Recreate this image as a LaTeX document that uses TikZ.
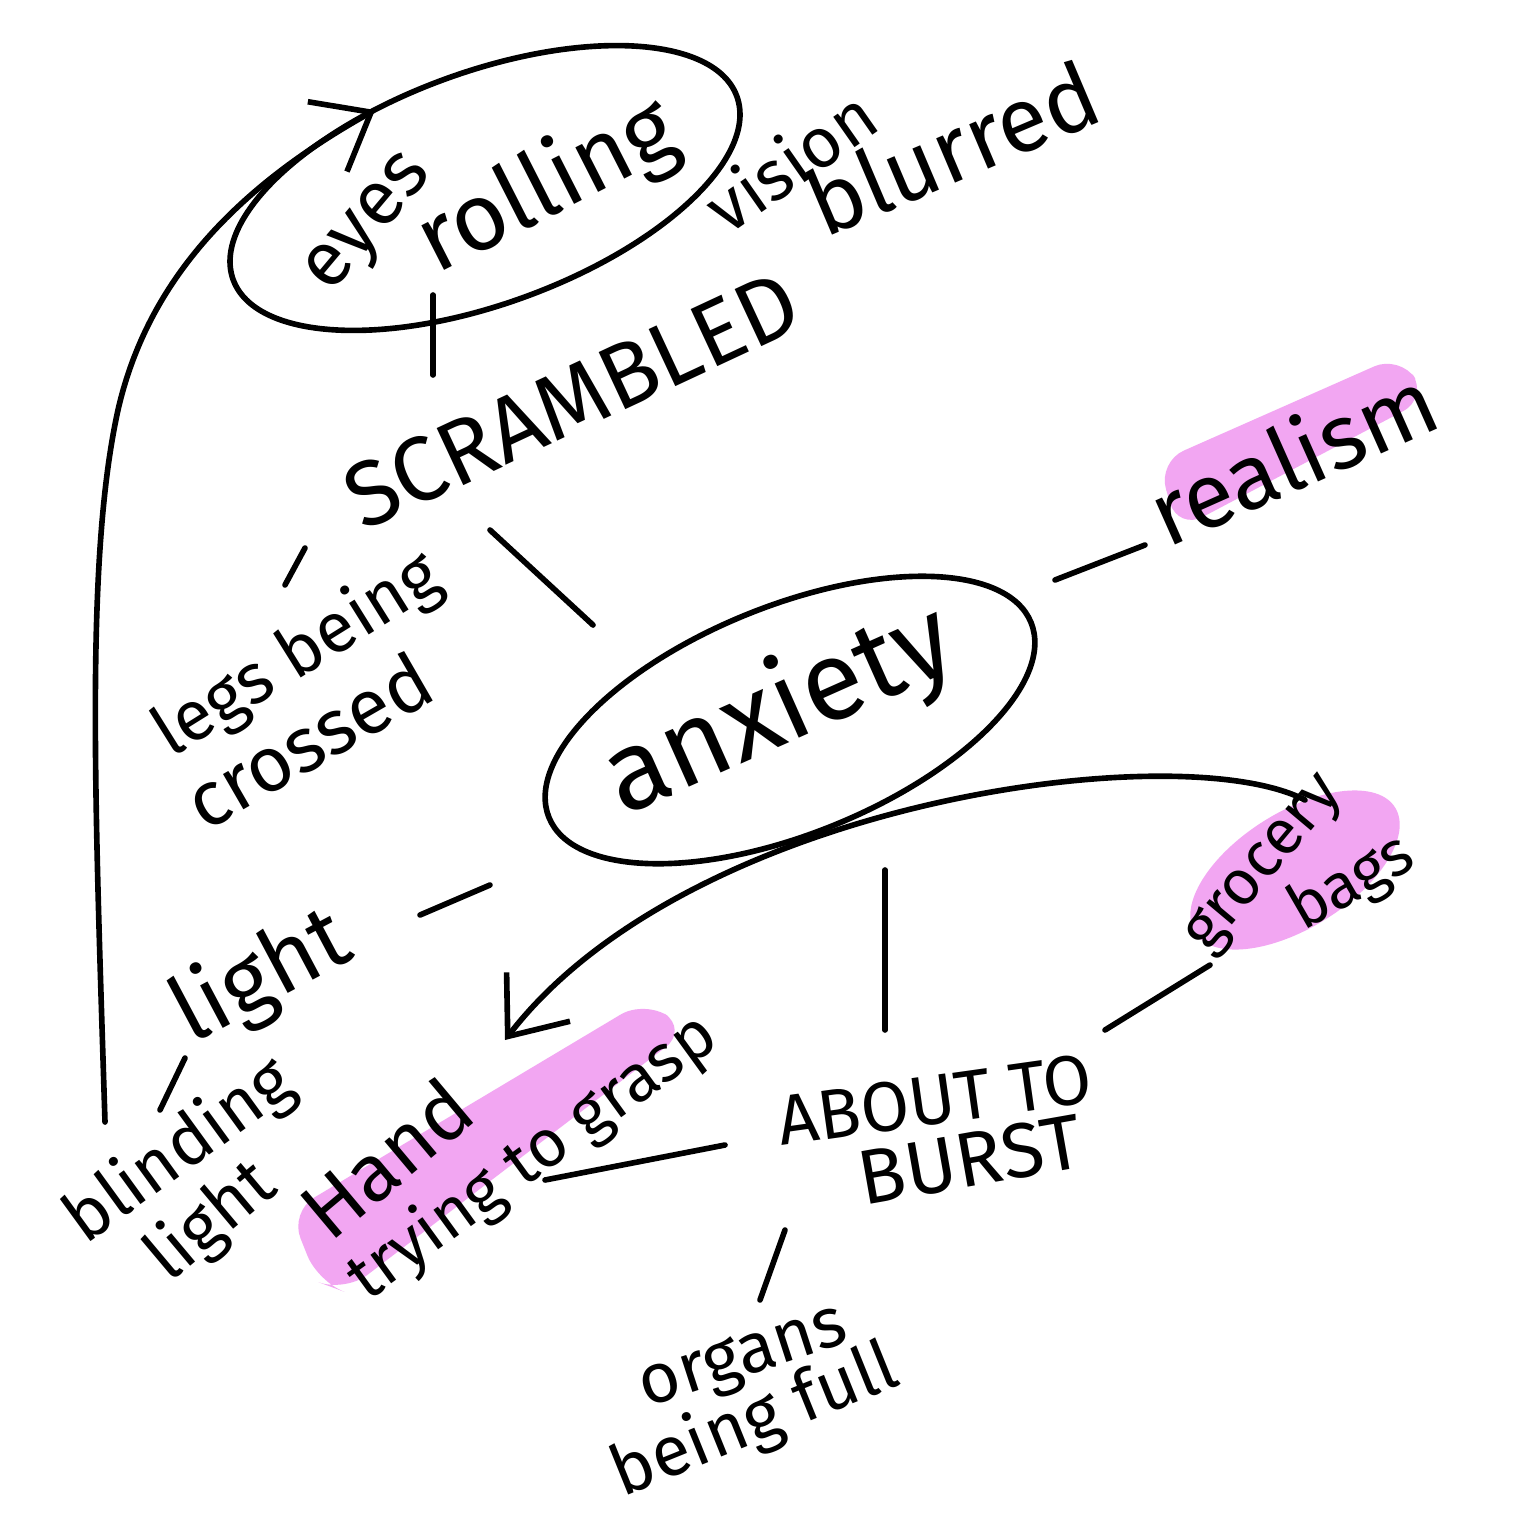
\documentclass[tikz,border=0pt]{standalone}
\usepackage{fontspec}
\setmainfont{Fira Sans}
\usetikzlibrary{arrows.meta}
\definecolor{hl}{RGB}{242,166,242}
\tikzset{
  stroke/.style={line width=1.6pt, line cap=round, line join=round, black},
  txt/.style={inner sep=0pt, font=\fontsize{#1}{#1}\selectfont},
  hlfill/.style={fill=hl, draw=none, rounded corners=8pt},
  barb/.style={-{Straight Barb[length=5mm,width=8mm,line width=1.6pt]}}
}
\begin{document}
\begin{tikzpicture}[x=0.01cm,y=-0.01cm]
\useasboundingbox (0,0) rectangle (1536,1536);
\fill[white] (0,0) rectangle (1536,1536);

% highlights
\fill[hlfill] (1158,462) -- (1400,355) -- (1428,398) -- (1178,530) -- cycle;
\fill[hl, rotate around={32:(1295,870)}] (1295,870) ellipse [x radius=118, y radius=58];
\fill[hlfill] (290,1212) -- (645,1000) -- (688,1030) -- (345,1292) -- (318,1282) -- cycle;

% ellipses
\draw[stroke, rotate around={20:(485,188)}] (485,188) ellipse [x radius=268, y radius=116];
\draw[stroke, rotate around={22:(790,720)}] (790,720) ellipse [x radius=260, y radius=114];

% texts
\node[txt=22pt, rotate=50] (eyes) at (372,226) {eyes};
\node[txt=27pt, rotate=27] (rolling) at (548,188) {rolling};
\node[txt=20pt, rotate=35] (vision) at (790,160) {vision};
\node[txt=26pt, rotate=23] (blurred) at (952,148) {blurred};
\node[txt=26pt, rotate=25] (scr) at (572,400) {SCRAMBLED};
\node[txt=20pt, rotate=32] (legs) at (298,656) {legs being};
\node[txt=22pt, rotate=30] (crossed) at (308,740) {crossed};
\node[txt=32pt, rotate=24] (anx) at (780,712) {anxiety};
\node[txt=26pt, rotate=24] (real) at (1292,455) {realism};
\node[txt=26pt, rotate=28] (light) at (262,978) {light};
\node[txt=20pt, rotate=36] (blind) at (180,1152) {blinding};
\node[txt=20pt, rotate=40] (blight) at (212,1222) {light};
\node[txt=23pt, rotate=40] (hand) at (386,1158) {Hand};
\node[txt=19pt, rotate=36] (trying) at (533,1158) {trying to grasp};
\node[txt=20pt, rotate=8] (about) at (935,1100) {ABOUT TO};
\node[txt=22pt, rotate=10] (burst) at (970,1160) {BURST};
\node[txt=18pt, rotate=50] (grocery) at (1266,866) {grocery};
\node[txt=18pt, rotate=30] (bags) at (1352,884) {bags};
\node[txt=20pt, rotate=18] (organs) at (745,1362) {organs};
\node[txt=20pt, rotate=22] (full) at (755,1422) {being full};

% connector end points
\coordinate (a1) at (433,295); \coordinate (a2) at (433,375);
\coordinate (b1) at (490,530); \coordinate (b2) at (593,625);
\coordinate (c1) at (305,548); \coordinate (c2) at (285,585);
\coordinate (d1) at (1055,580); \coordinate (d2) at (1145,545);
\coordinate (e1) at (490,885); \coordinate (e2) at (420,915);
\coordinate (f1) at (185,1058); \coordinate (f2) at (160,1110);
\coordinate (g1) at (885,870); \coordinate (g2) at (885,1030);
\coordinate (h1) at (1105,1030); \coordinate (h2) at (1210,965);
\coordinate (i1) at (725,1145); \coordinate (i2) at (545,1180);
\coordinate (j1) at (785,1230); \coordinate (j2) at (760,1300);
\coordinate (k1) at (105,1122); \coordinate (k2) at (375,110);
\coordinate (m1) at (1305,800); \coordinate (m2) at (505,1040);

\draw[stroke] (a1) -- (a2);
\draw[stroke] (b1) -- (b2);
\draw[stroke] (c1) -- (c2);
\draw[stroke] (d1) -- (d2);
\draw[stroke] (e1) -- (e2);
\draw[stroke] (f1) -- (f2);
\draw[stroke] (g1) -- (g2);
\draw[stroke] (h1) -- (h2);
\draw[stroke] (i1) -- (i2);
\draw[stroke] (j1) -- (j2);

% arrows
\draw[stroke, barb] (k1) .. controls (95,800) and (85,560) .. (118,410) .. controls (150,270) and (250,180) .. (k2);
\draw[stroke, barb] (m1) .. controls (1180,735) and (690,800) .. (m2);
\end{tikzpicture}
\end{document}
